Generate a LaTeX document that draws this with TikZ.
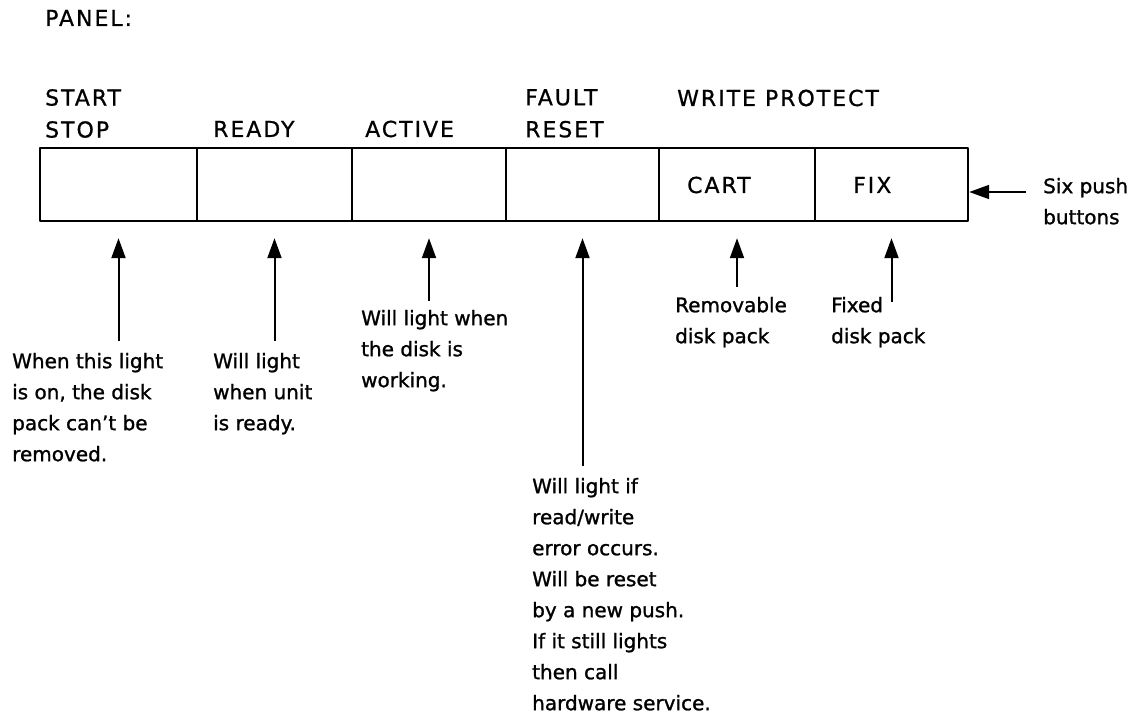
\documentclass[tikz,border=0pt]{standalone}
\usepackage{fontspec}
\newfontfamily\panelfont[LetterSpace=9,FakeBold=0.8]{DejaVu Sans}
\newfontfamily\notefont[FakeBold=1.2]{DejaVu Sans}
\usetikzlibrary{arrows.meta}
\tikzset{
	cell/.style={draw, line width=2.4pt, minimum height=73pt, inner sep=0pt},
	lbl/.style={inner sep=0pt, align=left, font={\panelfont\fontsize{22}{32}\selectfont}},
	note/.style={inner sep=0pt, align=left, anchor=north west, font={\notefont\fontsize{20}{31}\selectfont}},
	pointer/.style={-{Triangle[length=20pt,width=14pt]}, line width=2pt, shorten >=16pt, shorten <=12pt},
}
\begin{document}
\begin{tikzpicture}[x=1pt,y=-1pt, line join=round]
	\useasboundingbox (0,0) rectangle (1143,714);
	% Six buttons of the panel
	\foreach \nm/\lft/\rgt in {ss/40/197, rdy/197/352, act/352/506, flt/506/659, crt/659/815, fix/815/968} {
		\pgfmathsetmacro\cellw{\rgt-\lft}
		\pgfmathsetmacro\cellx{(\lft+\rgt)/2}
		\node[cell, minimum width=\cellw pt] (\nm) at (\cellx,184.5) {};
	}
	% Labels above
	\node[lbl, anchor=base west] (panel) at (45,26) {PANEL:};
	\node[lbl, anchor=north west] (sslbl) at (45,89) {START\\STOP};
	\node[lbl, anchor=base west] (rdylbl) at (213,137) {READY};
	\node[lbl, anchor=base west] (actlbl) at (365,137) {ACTIVE};
	\node[lbl, anchor=north west] (fltlbl) at (525,89) {FAULT\\RESET};
	\node[lbl, anchor=base west] (wplbl) at (677,106) {WRITE PROTECT};
	\node[lbl, anchor=base west] (crtlbl) at (687,193) {CART};
	\node[lbl, anchor=base west] (fixlbl) at (853,193) {FIX};
	% Notes below
	\node[note] (sstxt) at (12,352.8) {When this light\\is on, the disk\\pack can’t be\\removed.};
	\node[note] (rdytxt) at (213,352.8) {Will light\\when unit\\is ready.};
	\node[note] (acttxt) at (361,309.8) {Will light when\\the disk is\\working.};
	\node[note] (flttxt) at (532,477.8) {Will light if\\read/write\\error occurs.\\Will be reset\\by a new push.\\If it still lights\\then call\\hardware service.};
	\node[note] (crttxt) at (675,296.8) {Removable\\disk pack};
	\node[note] (fixtxt) at (831,296.8) {Fixed\\disk pack};
	\node[note] (sixtxt) at (1043,177.8) {Six push\\buttons};
	% Arrows
	\draw[pointer] (sstxt.north -| ss.south) -- (ss.south);
	\draw[pointer] (rdytxt.north -| rdy.south) -- (rdy.south);
	\draw[pointer, shorten <=9pt] (acttxt.north -| act.south) -- (act.south);
	\draw[pointer] (flttxt.north -| flt.south) -- (flt.south);
	\draw[pointer, shorten <=10pt] (crttxt.north -| crt.south) -- (crt.south);
	\draw[pointer, shorten <=-5pt] (fixtxt.north -| fix.south) -- (fix.south);
	\coordinate (sixy) at (1000,192);
	\draw[pointer, shorten >=0pt, shorten <=17pt] (sixtxt.west |- sixy) -- (fix.east |- sixy);
\end{tikzpicture}
\end{document}
